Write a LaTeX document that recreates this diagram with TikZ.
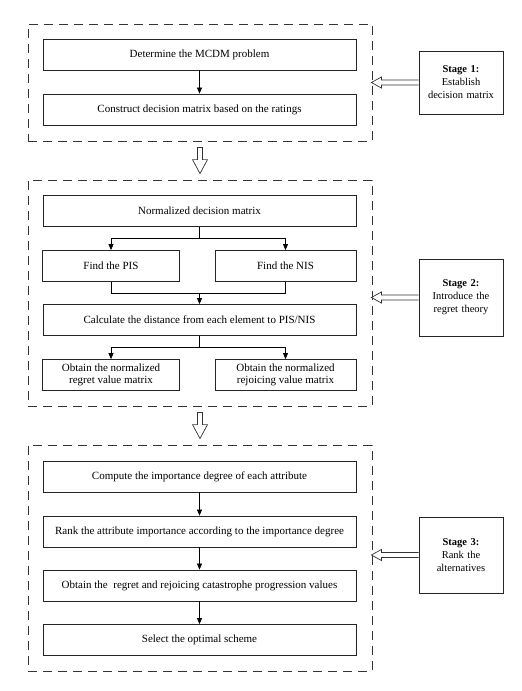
\documentclass[tikz,border=0pt]{standalone}
\usepackage{fontspec}
\setmainfont{Liberation Serif}
\usetikzlibrary{arrows.meta,calc}
\newcommand\hollowleft[2]{\draw[hol] let \p1=(#1), \p2=(#2) in (\x1,\y1+2.5) -- (\x2+9,\y1+2.5) -- (\x2+9,\y1+5.5) -- (\x2-1,\y1) -- (\x2+9,\y1-5.5) -- (\x2+9,\y1-2.5) -- (\x1,\y1-2.5);}
\newcommand\hollowdown[2]{\draw[hol] let \p1=(#1), \p2=(#2) in (\x1-2.5,\y1-6) -- (\x1-2.5,\y2+20) -- (\x1-7.5,\y2+20) -- (\x1,\y2+6) -- (\x1+7.5,\y2+20) -- (\x1+2.5,\y2+20) -- (\x1+2.5,\y1-6) -- cycle;}
\begin{document}
\begin{tikzpicture}[x=1pt,y=-1pt,
  txt/.style={font=\fontsize{11}{13}\selectfont},
  box/.style={txt, draw=black!85, line width=0.8pt, minimum height=31pt, minimum width=313pt, inner sep=1pt, align=center},
  half/.style={box, minimum width=137pt},
  dbox/.style={draw=black!80, line width=0.8pt, dash pattern=on 9pt off 6pt, inner sep=0pt, minimum width=344pt},
  stage/.style={font=\fontsize{10.5}{13}\selectfont, draw=black!85, line width=0.8pt, minimum width=84pt, inner sep=1pt, align=center, text width=82pt},
  arr/.style={draw=black, line width=0.7pt, -{Triangle[length=6pt,width=5pt]}},
  ln/.style={draw=black, line width=0.7pt},
  hol/.style={draw=black!80, line width=0.7pt, fill=white}
]
\useasboundingbox (0,0) rectangle (522,691);
% dashed stage frames
\node[dbox, minimum height=117pt] (d1) at (200,82.5) {};
\node[dbox, minimum height=226pt] (d2) at (200,293) {};
\node[dbox, minimum height=226pt] (d3) at (200,558) {};
% stage 1
\node[box] (b1) at (199.5,54.5) {Determine the MCDM problem};
\node[box] (b2) at (199.5,109.5) {Construct decision matrix based on the ratings};
\draw[arr] (b1) -- (b2);
% stage 2
\node[box] (norm) at (199.5,211) {Normalized decision matrix};
\node[half] (pis) at (111,266) {Find the PIS};
\node[half, minimum width=141pt] (nis) at (285.5,266) {Find the NIS};
\node[box] (calc) at (199.5,320) {Calculate the distance from each element to PIS/NIS};
\node[half, font=\fontsize{11}{12.5}\selectfont] (r1) at (111,375) {Obtain the normalized\\regret value matrix};
\node[half, minimum width=141pt, font=\fontsize{11}{12.5}\selectfont] (r2) at (285.5,375) {Obtain the normalized\\rejoicing value matrix};
\coordinate (j1) at ($(norm.south)+(0,11)$);
\draw[ln] (norm.south) -- (j1);
\draw[arr] (j1) -| (pis.north);
\draw[arr] (j1) -| (nis.north);
\coordinate (j2) at ($(calc.north)+(0,-11)$);
\draw[ln] (pis.south) |- (j2);
\draw[ln] (nis.south) |- (j2);
\draw[arr] (j2) -- (calc.north);
\coordinate (j3) at ($(calc.south)+(0,11)$);
\draw[ln] (calc.south) -- (j3);
\draw[arr] (j3) -| (r1.north);
\draw[arr] (j3) -| (r2.north);
% stage 3
\node[box] (comp) at (199.5,476.5) {Compute the importance degree of each attribute};
\node[box] (rank) at (199.5,531.5) {Rank the attribute importance according to the importance degree};
\node[box] (obt) at (199.5,585.5) {Obtain the~ regret and rejoicing catastrophe progression values};
\node[box] (sel) at (199.5,640) {Select the optimal scheme};
\draw[arr] (comp) -- (rank);
\draw[arr] (rank) -- (obt);
\draw[arr] (obt) -- (sel);
% stage labels
\node[stage, minimum height=63pt] (s1) at (461,82.5) {\textbf{Stage 1:}\\Establish\\decision matrix};
\node[stage, minimum height=77pt] (s2) at (461,297.5) {\textbf{Stage 2:}\\Introduce the\\regret theory};
\node[stage, minimum height=76pt] (s3) at (461,555) {\textbf{Stage 3:}\\Rank the\\alternatives};
\hollowleft{s1.west}{d1.east}
\hollowleft{s2.west}{d2.east}
\hollowleft{s3.west}{d3.east}
\hollowdown{d1.south}{d2.north}
\hollowdown{d2.south}{d3.north}
\end{tikzpicture}
\end{document}
